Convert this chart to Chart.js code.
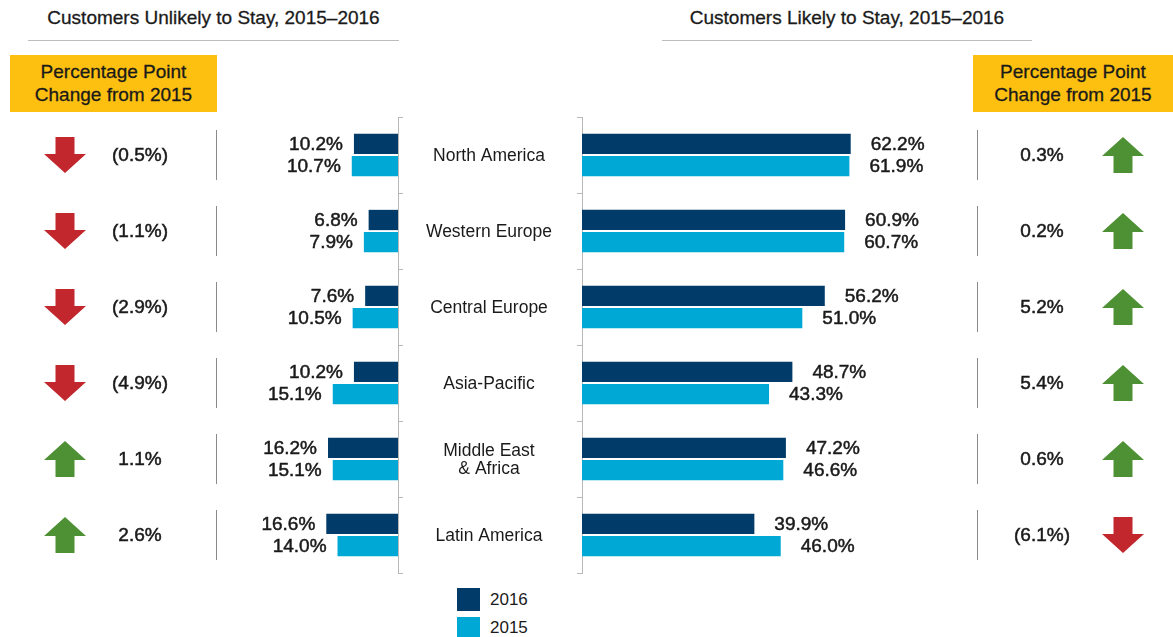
<!DOCTYPE html>
<html>
<head>
<meta charset="utf-8">
<script src="https://cdn.jsdelivr.net/npm/chart.js@4.4.0/dist/chart.umd.min.js"></script>
<style>
  body { margin: 0; width: 1173px; height: 637px; overflow: hidden; background: #fff;
         font-family: "Liberation Sans", Arial, sans-serif; color: #1a1a1a; position: relative; }
  canvas { position: absolute; left: 0; top: 0; }
  .title { position: absolute; top: 7px; font-size: 19px; text-align: center; white-space: nowrap;
           -webkit-text-stroke: 0.3px #1a1a1a; }
  .rule { position: absolute; top: 40px; height: 1px; background: #bdbdbd; }
  .box { position: absolute; top: 55px; height: 57px; background: #fdc010; font-size: 19px;
         text-align: center; line-height: 23px; padding-top: 5px; box-sizing: border-box;
         -webkit-text-stroke: 0.3px #1a1a1a; }
  .key { position: absolute; left: 457px; width: 23px; height: 23px; }
  .keytxt { position: absolute; left: 490px; font-size: 17px; }
</style>
</head>
<body>
<div class="title" style="left:28px;width:371px">Customers Unlikely to Stay, 2015–2016</div>
<div class="rule" style="left:28px;width:371px"></div>
<div class="title" style="left:662px;width:370px">Customers Likely to Stay, 2015–2016</div>
<div class="rule" style="left:662px;width:370px"></div>
<div class="box" style="left:10px;width:207px">Percentage Point<br>Change from 2015</div>
<div class="box" style="left:973px;width:200px">Percentage Point<br>Change from 2015</div>
<div class="key" style="top:588px;background:#003b69"></div>
<div class="keytxt" style="top:590px">2016</div>
<div class="key" style="top:617px;background:#00a8d5"></div>
<div class="keytxt" style="top:618px">2015</div>

<canvas id="left" width="1173" height="637"></canvas>
<canvas id="right" width="1173" height="637"></canvas>

<script>
const regions = ['North America', 'Western Europe', 'Central Europe', 'Asia-Pacific',
                 ['Middle East', '& Africa'], 'Latin America'];

const unlikely2016 = [10.2, 6.8, 7.6, 10.2, 16.2, 16.6];
const unlikely2015 = [10.7, 7.9, 10.5, 15.1, 15.1, 14.0];
const likely2016 = [62.2, 60.9, 56.2, 48.7, 47.2, 39.9];
const likely2015 = [61.9, 60.7, 51.0, 43.3, 46.6, 46.0];

const unlikelyChange = [-0.5, -1.1, -2.9, -4.9, 1.1, 2.6];
const likelyChange = [0.3, 0.2, 5.2, 5.4, 0.6, -6.1];

const NAVY = '#003b69';
const CYAN = '#00a8d5';
const GREEN = '#4e9135';
const RED = '#c1272d';
const TEXT = '#1a1a1a';
const VALUE_FONT = '19px "Liberation Sans", Arial, sans-serif';
const CAT_FONT = '17.5px "Liberation Sans", Arial, sans-serif';

const fmtChange = v => v < 0 ? '(' + Math.abs(v).toFixed(1) + '%)' : v.toFixed(1) + '%';

// slightly heavier text, the source uses a medium weight
function boldish(ctx, txt, x, y) {
  ctx.fillText(txt, x, y);
  ctx.strokeText(txt, x, y);
}

function drawArrow(ctx, cx, cy, up, color) {
  const hw = 21, sw = 9.5, h = 36, head = 19;
  const s = up ? 1 : -1;
  const tip = cy - s * h / 2;
  const neck = tip + s * head;
  const end = cy + s * h / 2;
  ctx.beginPath();
  ctx.moveTo(cx, tip);
  ctx.lineTo(cx + hw, neck);
  ctx.lineTo(cx + sw, neck);
  ctx.lineTo(cx + sw, end);
  ctx.lineTo(cx - sw, end);
  ctx.lineTo(cx - sw, neck);
  ctx.lineTo(cx - hw, neck);
  ctx.closePath();
  ctx.fillStyle = color;
  ctx.fill();
}

// values beside the bars, plus the change column of each side
const sidePlugin = {
  id: 'side',
  afterDatasetsDraw(chart, args, opts) {
    const ctx = chart.ctx;
    ctx.save();
    ctx.font = VALUE_FONT;
    ctx.fillStyle = TEXT;
    ctx.strokeStyle = TEXT;
    ctx.lineWidth = 0.5;
    ctx.textBaseline = 'middle';
    chart.data.datasets.forEach((ds, di) => {
      chart.getDatasetMeta(di).data.forEach((bar, i) => {
        const txt = ds.data[i].toFixed(1) + '%';
        if (opts.side === 'left') {
          ctx.textAlign = 'right';
          boldish(ctx, txt, bar.x - 11, bar.y + 1);
        } else {
          ctx.textAlign = 'left';
          boldish(ctx, txt, bar.x + 20, bar.y + 1);
        }
      });
    });

    const yScale = chart.scales.y;
    opts.changes.forEach((v, i) => {
      const y = yScale.getPixelForValue(i);
      ctx.save();
      ctx.strokeStyle = '#8a8a8a';
      ctx.lineWidth = 1;
      ctx.beginPath();
      ctx.moveTo(opts.sepX + 0.5, y - 25);
      ctx.lineTo(opts.sepX + 0.5, y + 25);
      ctx.stroke();
      ctx.restore();
      ctx.textAlign = 'center';
      ctx.fillStyle = TEXT;
      boldish(ctx, fmtChange(v), opts.textX, y + 1);
      drawArrow(ctx, opts.arrowX, y, v >= 0, v >= 0 ? GREEN : RED);
    });

    if (opts.side === 'right') {
      ctx.font = CAT_FONT;
      ctx.textAlign = 'center';
      ctx.fillStyle = TEXT;
      chart.data.labels.forEach((lab, i) => {
        const y = yScale.getPixelForValue(i);
        const lines = Array.isArray(lab) ? lab : [lab];
        lines.forEach((ln, k) => {
          ctx.fillText(ln, 489, y + 1 + (k - (lines.length - 1) / 2) * 18);
        });
      });
    }
    ctx.restore();
  }
};

const PX_PER_PCT = 4.32;

function makeChart(id, side, d16, d15, changes) {
  const isLeft = side === 'left';
  const areaL = isLeft ? 200 : 582;
  const areaR = isLeft ? 398 : 1000;
  const axisW = 10;
  return new Chart(document.getElementById(id), {
    type: 'bar',
    data: {
      labels: regions,
      datasets: [
        { label: '2016', data: d16, backgroundColor: NAVY },
        { label: '2015', data: d15, backgroundColor: CYAN }
      ]
    },
    options: {
      indexAxis: 'y',
      responsive: false,
      animation: false,
      events: [],
      categoryPercentage: 0.58,
      barPercentage: 0.92,
      layout: {
        padding: {
          top: 117,
          bottom: 637 - 573,
          left: isLeft ? areaL : areaL - axisW,
          right: isLeft ? 1173 - areaR - axisW : 1173 - areaR
        }
      },
      scales: {
        x: {
          display: false,
          reverse: isLeft,
          min: 0,
          max: (areaR - areaL) / PX_PER_PCT
        },
        y: {
          position: isLeft ? 'right' : 'left',
          grid: { drawOnChartArea: false, drawTicks: true, tickLength: 5, color: '#b8b8b8', offset: true },
          border: { display: true, color: '#b8b8b8' },
          ticks: { display: false },
          afterFit(scale) { scale.width = axisW; }
        }
      },
      plugins: {
        legend: { display: false },
        tooltip: { enabled: false },
        side: {
          side: side,
          changes: changes,
          sepX: isLeft ? 216 : 977,
          textX: isLeft ? 140 : 1042,
          arrowX: isLeft ? 65 : 1123
        }
      }
    },
    plugins: [sidePlugin]
  });
}

makeChart('left', 'left', unlikely2016, unlikely2015, unlikelyChange);
makeChart('right', 'right', likely2016, likely2015, likelyChange);
</script>
</body>
</html>
